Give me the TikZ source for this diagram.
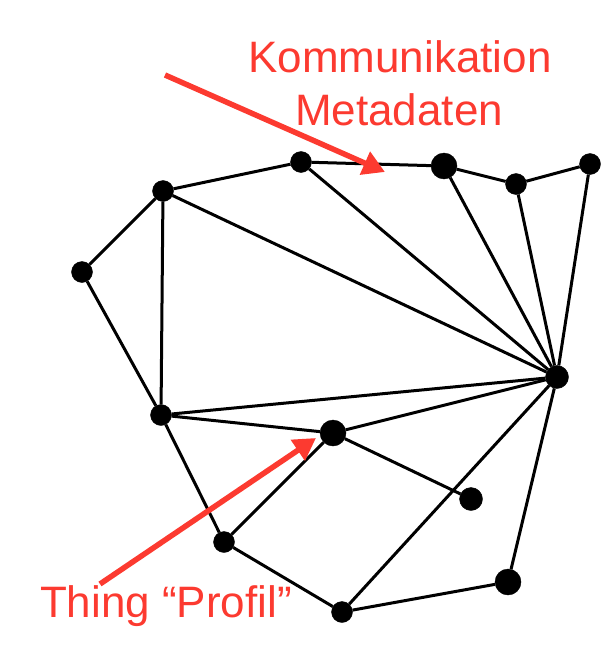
\documentclass[tikz,border=0pt]{standalone}
\usepackage{fontspec}
\setmainfont{Liberation Sans}
\usetikzlibrary{arrows.meta}
\definecolor{notered}{RGB}{252,58,48}
\begin{document}
\begin{tikzpicture}[x=1pt, y=-1pt]
      \tikzset{dot/.style={draw, circle, inner sep=0pt, minimum size=21pt, fill=black},
               bigdot/.style={dot, minimum size=26pt},
               edge/.style={line width=3pt},
               note/.style={text=notered, font=\fontsize{44}{50}\selectfont, inner sep=0pt},
               pointer/.style={draw=notered, line width=5.5pt, -{Triangle[length=22pt, width=24pt]}}}
      \useasboundingbox (0,0) rectangle (609,645);

      \node[dot] (A) at (163,191) {};
      \node[dot] (B) at (301,162) {};
      \node[bigdot] (C) at (444,166) {};
      \node[dot] (D) at (516,184) {};
      \node[dot] (E) at (590,164) {};
      \node[dot] (F) at (82,272) {};
      \node[dot, minimum size=23pt] (G) at (557,377) {};
      \node[dot] (H) at (161,415) {};
      \node[bigdot] (I) at (333,433) {};
      \node[dot, minimum size=23pt] (J) at (471,499) {};
      \node[dot] (K) at (224,542) {};
      \node[bigdot] (L) at (508,582) {};
      \node[dot] (M) at (342,612) {};

      \draw[edge] (A) -- (B);
      \draw[edge] (B) -- (C);
      \draw[edge] (C) -- (D);
      \draw[edge] (D) -- (E);
      \draw[edge] (A) -- (F);
      \draw[edge] (F) -- (H);
      \draw[edge] (A) -- (H);
      \draw[edge] (A) -- (G);
      \draw[edge] (B) -- (G);
      \draw[edge] (C) -- (G);
      \draw[edge] (D) -- (G);
      \draw[edge] (E) -- (G);
      \draw[edge] (H) -- (G);
      \draw[edge] (I) -- (G);
      \draw[edge] (H) -- (I);
      \draw[edge] (I) -- (J);
      \draw[edge] (H) -- (K);
      \draw[edge] (K) -- (I);
      \draw[edge] (K) -- (M);
      \draw[edge] (M) -- (G);
      \draw[edge] (M) -- (L);
      \draw[edge] (L) -- (G);

      \node[note] (meta1) at (400,57) {Kommunikation};
      \node[note] (meta2) at (399,110) {Metadaten};
      \node[note] (thing) at (166,606) {Thing “Profil”};

      \coordinate (p1) at (165,75);
      \coordinate (p2) at (385,172);
      \coordinate (p3) at (100,584);
      \coordinate (p4) at (316,438);
      \draw[pointer] (p1) -- (p2);
      \draw[pointer] (p3) -- (p4);
\end{tikzpicture}
\end{document}
